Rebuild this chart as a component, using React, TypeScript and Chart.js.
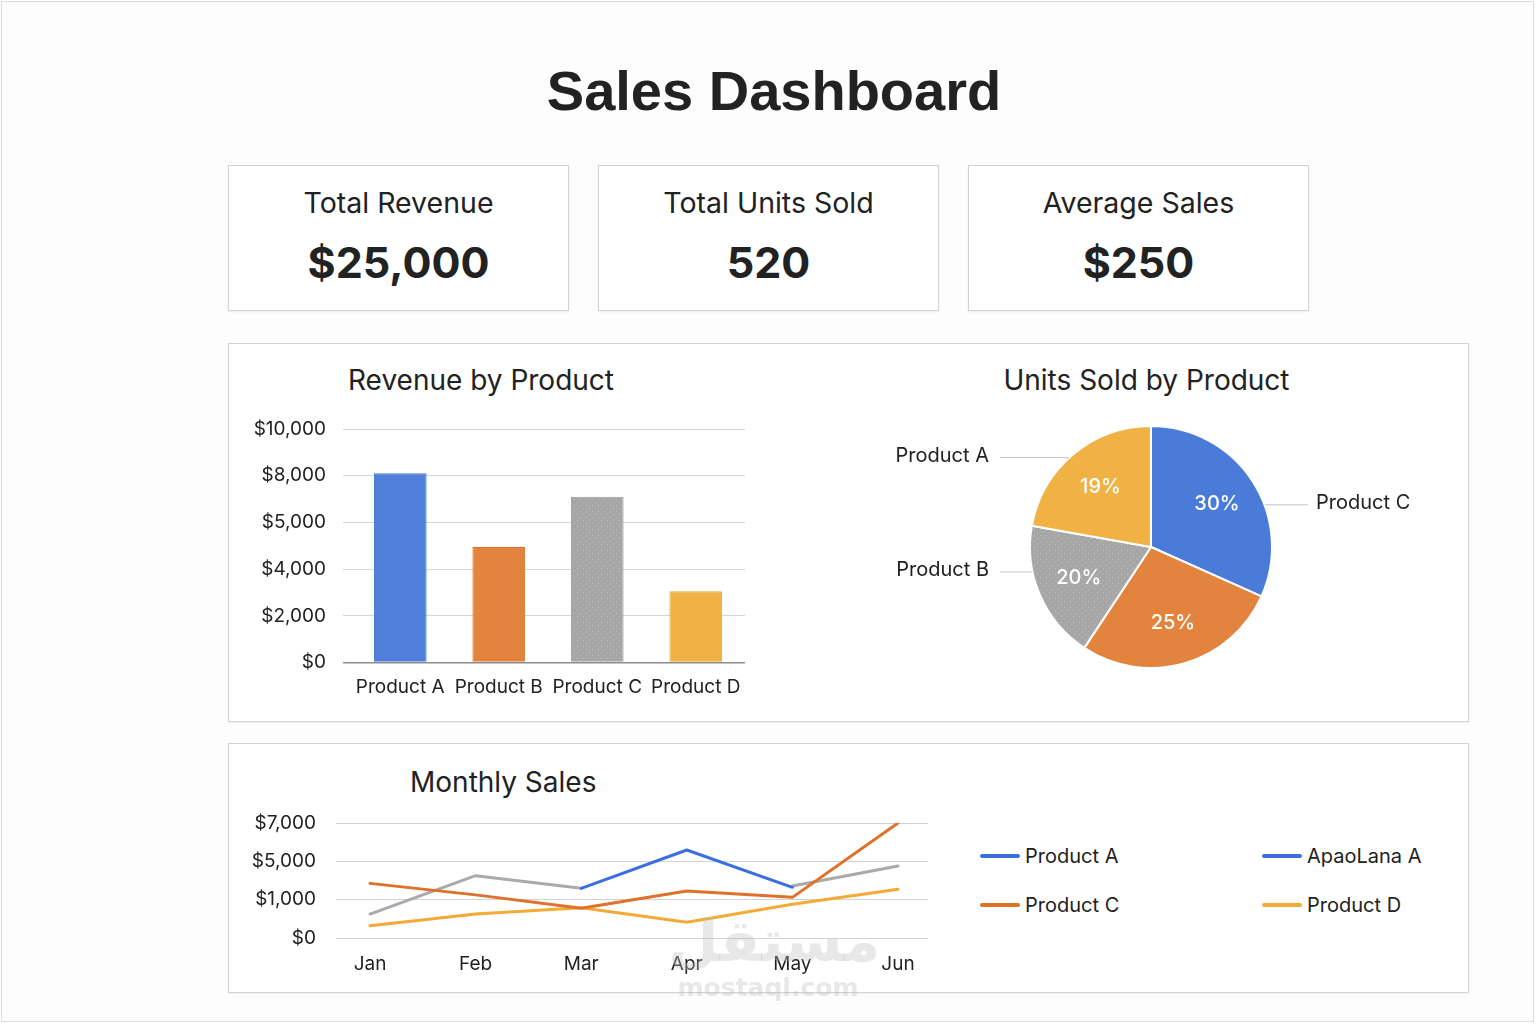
import React, { useEffect, useRef } from "react";
import { Chart, registerables } from "chart.js";

Chart.register(...registerables);

const FONT = "Inter, 'Noto Sans', Roboto, sans-serif";
const TEXT = "#222222";

// ---- KPI cards ----
const kpiTitles = ["Total Revenue", "Total Units Sold", "Average Sales"];
const kpiValues = ["$25,000", "520", "$250"];

// ---- Revenue by Product (bar) ----
const products = ["Product A", "Product B", "Product C", "Product D"];
const revenue = [8100, 4950, 7100, 3050];
const revenueTickLabels = ["$0", "$2,000", "$4,000", "$5,000", "$8,000", "$10,000"];
const revenueColors = ["#4f7fd9", "#e2843e", "#a6a6a6", "#f1b245"];
const revenueBorders = ["#3f6fd0", "#d9762e", "#9c9c9c", "#eaa835"];

// ---- Units Sold by Product (pie) ----
const unitsSlices = ["Product C", "Product D", "Product B", "Product A"];
const unitsShare = [31.7, 27.6, 18.5, 22.2];
const unitsPctLabels = ["30%", "25%", "20%", "19%"];
const unitsOutsideLabels = ["Product C", "", "Product B", "Product A"];
const unitsLabelAnchor = [0.61, 0.5, 0.67, 0.47];
const unitsColors = ["#4a7bd9", "#e2843e", "#a6a6a6", "#f0b244"];

// ---- Monthly Sales (line) ----
const months = ["Jan", "Feb", "Mar", "Apr", "May", "Jun"];
const monthlyTickLabels = ["$0", "$1,000", "$5,000", "$7,000"];
const salesA: (number | null)[] = [null, null, 2590, 4590, 2645, null];
const salesC: (number | null)[] = [2850, 2250, 1550, 2450, 2120, 6000];
const salesD: (number | null)[] = [640, 1250, 1580, 820, 1760, 2540];
const salesB: (number | null)[] = [1250, 3250, 2590, null, 2710, 3760];
const lineColors = { A: "#3b6fe0", C: "#e0712a", D: "#f4aa36", B: "#aaaaaa" };
const legendLabels = ["Product A", "ApaoLana A", "Product C", "Product D"];
const legendColors = ["#3b6fe0", "#3b6fe0", "#e0712a", "#f4aa36"];

function dottedPattern(base: string) {
  const c = document.createElement("canvas");
  c.width = 6;
  c.height = 6;
  const g = c.getContext("2d")!;
  g.fillStyle = base;
  g.fillRect(0, 0, 6, 6);
  g.fillStyle = "rgba(255,255,255,0.28)";
  g.fillRect(1, 1, 1, 1);
  g.fillRect(4, 4, 1, 1);
  return g.createPattern(c, "repeat") || base;
}

function BarChart() {
  const ref = useRef<HTMLCanvasElement>(null);
  useEffect(() => {
    const colors = revenueColors.map((c, i) => (i === 2 ? dottedPattern(c) : c));
    const chart = new Chart(ref.current!, {
      type: "bar",
      data: {
        labels: products,
        datasets: [
          {
            data: revenue,
            backgroundColor: colors as any,
            borderColor: revenueBorders,
            borderWidth: 1,
            borderSkipped: "bottom",
            barPercentage: 0.535,
            categoryPercentage: 1,
          },
        ],
      },
      options: {
        animation: false,
        responsive: false,
        devicePixelRatio: 1,
        layout: { padding: { top: 24, right: 15, bottom: 0, left: 0 } },
        plugins: { legend: { display: false }, tooltip: { enabled: false } },
        scales: {
          x: {
            grid: { display: false, drawTicks: false },
            border: { display: false },
            ticks: { color: TEXT, font: { family: FONT, size: 19 }, padding: 13 },
            afterFit: (s: any) => {
              s.height = 42.5;
            },
          },
          y: {
            min: 0,
            max: 10000,
            grid: {
              color: (ctx: any) => (ctx.tick && ctx.tick.value === 0 ? "#8c8c8c" : "#d6d6d6"),
              lineWidth: (ctx: any) => (ctx.tick && ctx.tick.value === 0 ? 1.5 : 1),
              tickLength: 8,
            },
            border: { display: false },
            ticks: {
              stepSize: 2000,
              padding: 17,
              color: TEXT,
              font: { family: FONT, size: 19 },
              callback: (v: any) => revenueTickLabels[Math.round(Number(v) / 2000)],
            },
            afterFit: (s: any) => {
              s.width = 111;
              s.paddingTop = 0;
              s.paddingBottom = 0;
            },
          },
        },
      },
    });
    return () => chart.destroy();
  }, []);
  return (
    <canvas
      ref={ref}
      width={520}
      height={300}
      style={{ position: "absolute", left: 240, top: 405, width: 520, height: 300 }}
    />
  );
}

const pieLabelPlugin = {
  id: "pieLabels",
  afterDatasetsDraw(chart: any) {
    const ctx = chart.ctx;
    const meta = chart.getDatasetMeta(0);
    ctx.save();
    meta.data.forEach((arc: any, i: number) => {
      const { x, y, startAngle, endAngle, outerRadius } = arc.getProps(
        ["x", "y", "startAngle", "endAngle", "outerRadius"],
        true
      );
      const mid = (startAngle + endAngle) / 2;
      const r = outerRadius * 0.65;
      ctx.fillStyle = "#ffffff";
      ctx.font = `500 20px ${FONT}`;
      ctx.textAlign = "center";
      ctx.textBaseline = "middle";
      ctx.fillText(unitsPctLabels[i], x + Math.cos(mid) * r, y + Math.sin(mid) * r);

      const name = unitsOutsideLabels[i];
      if (!name) return;
      const a = startAngle + (endAngle - startAngle) * unitsLabelAnchor[i];
      const px = x + Math.cos(a) * outerRadius;
      const py = y + Math.sin(a) * outerRadius;
      const left = Math.cos(a) < 0;
      const lineEnd = left ? x - outerRadius - 30 : x + outerRadius + 36;
      ctx.strokeStyle = "#c4c4c4";
      ctx.lineWidth = 1;
      ctx.beginPath();
      ctx.moveTo(px, py);
      ctx.lineTo(lineEnd, py);
      ctx.stroke();
      ctx.fillStyle = TEXT;
      ctx.font = `400 20px ${FONT}`;
      ctx.textAlign = left ? "right" : "left";
      ctx.fillText(name, left ? lineEnd - 11 : lineEnd + 8, py - 2);
    });
    ctx.restore();
  },
};

function PieChart() {
  const ref = useRef<HTMLCanvasElement>(null);
  useEffect(() => {
    const colors = unitsColors.map((c, i) => (i === 2 ? dottedPattern(c) : c));
    const chart = new Chart(ref.current!, {
      type: "pie",
      data: {
        labels: unitsSlices,
        datasets: [
          {
            data: unitsShare,
            backgroundColor: colors as any,
            borderColor: "#ffffff",
            borderWidth: 2,
          },
        ],
      },
      options: {
        animation: false,
        responsive: false,
        devicePixelRatio: 1,
        layout: { padding: { left: 149, right: 167, top: 20, bottom: 26 } },
        plugins: { legend: { display: false }, tooltip: { enabled: false } },
      },
      plugins: [pieLabelPlugin],
    });
    return () => chart.destroy();
  }, []);
  return (
    <canvas
      ref={ref}
      width={560}
      height={290}
      style={{ position: "absolute", left: 880, top: 405, width: 560, height: 290 }}
    />
  );
}

function toPoints(arr: (number | null)[]) {
  return arr.map((v, i) => ({ x: i, y: v }));
}

function LineChart() {
  const ref = useRef<HTMLCanvasElement>(null);
  useEffect(() => {
    const ds = (data: (number | null)[], color: string) => ({
      data: toPoints(data) as any,
      borderColor: color,
      backgroundColor: color,
      borderWidth: 3,
      pointRadius: 0,
      tension: 0,
      spanGaps: false,
      borderCapStyle: "round" as const,
      borderJoinStyle: "round" as const,
    });
    const chart = new Chart(ref.current!, {
      type: "line",
      data: {
        datasets: [
          ds(salesA, lineColors.A),
          ds(salesC, lineColors.C),
          ds(salesD, lineColors.D),
          ds(salesB, lineColors.B),
        ],
      },
      options: {
        animation: false,
        responsive: false,
        devicePixelRatio: 1,
        layout: { padding: { top: 18, right: 12, bottom: 0, left: 0 } },
        plugins: { legend: { display: false }, tooltip: { enabled: false } },
        scales: {
          x: {
            type: "linear",
            min: -0.322,
            max: 5.284,
            grid: { display: false, drawTicks: false },
            border: { display: false },
            ticks: {
              stepSize: 1,
              includeBounds: false,
              autoSkip: false,
              maxRotation: 0,
              padding: 15,
              color: TEXT,
              font: { family: FONT, size: 19 },
              callback: (v: any) => {
                const n = Number(v);
                return Number.isInteger(n) ? months[n] : "";
              },
            },
            afterFit: (s: any) => {
              s.height = 47;
            },
          },
          y: {
            min: 0,
            max: 6000,
            grid: { color: "#d2d2d2", drawTicks: false },
            border: { display: false },
            ticks: {
              stepSize: 2000,
              padding: 20,
              color: TEXT,
              font: { family: FONT, size: 19 },
              callback: (v: any) => monthlyTickLabels[Math.round(Number(v) / 2000)],
            },
            afterFit: (s: any) => {
              s.width = 96;
              s.paddingTop = 0;
              s.paddingBottom = 0;
            },
          },
        },
      },
    });
    return () => chart.destroy();
  }, []);
  return (
    <canvas
      ref={ref}
      width={700}
      height={180}
      style={{ position: "absolute", left: 240, top: 805, width: 700, height: 180 }}
    />
  );
}

const boxStyle = (left: number, top: number, width: number, height: number): React.CSSProperties => ({
  position: "absolute",
  left,
  top,
  width,
  height,
  boxSizing: "border-box",
  border: "1px solid #d2d2d2",
  background: "#ffffff",
  boxShadow: "0 1px 2px rgba(0,0,0,0.06)",
});

const textStyle = (
  left: number,
  top: number,
  size: number,
  weight: number,
  extra: React.CSSProperties = {}
): React.CSSProperties => ({
  position: "absolute",
  left,
  top,
  fontSize: size,
  lineHeight: `${size}px`,
  fontWeight: weight,
  fontFamily: FONT,
  color: TEXT,
  whiteSpace: "nowrap",
  ...extra,
});

export default function App() {
  const cardLefts = [228, 598, 968];
  return (
    <div
      style={{
        position: "absolute",
        left: 0,
        top: 0,
        width: 1536,
        height: 1024,
        background: "#ffffff",
        overflow: "hidden",
      }}
    >
      <div
        style={{
          position: "absolute",
          left: 1,
          top: 1,
          width: 1533,
          height: 1021,
          boxSizing: "border-box",
          border: "1px solid #dcdcdc",
          background: "#fdfdfd",
        }}
      />
      <div
        style={{
          position: "absolute",
          left: 0,
          top: 63,
          width: 1548,
          textAlign: "center",
          fontFamily: "'Liberation Sans', Arial, sans-serif",
          fontWeight: 700,
          fontSize: 56,
          lineHeight: "56px",
          color: TEXT,
        }}
      >
        Sales Dashboard
      </div>

      {cardLefts.map((l, i) => (
        <div key={i} style={boxStyle(l, 165, 341, 146)}>
          <div style={textStyle(0, 23, 28.5, 400, { width: 339, textAlign: "center" })}>{kpiTitles[i]}</div>
          <div style={textStyle(0, 75, 43, 700, { width: 339, textAlign: "center" })}>{kpiValues[i]}</div>
        </div>
      ))}

      <div style={boxStyle(228, 343, 1241, 379)} />
      <div style={textStyle(348, 366, 28, 400)}>Revenue by Product</div>
      <div style={textStyle(1000, 366, 28, 400, { width: 293, textAlign: "center" })}>Units Sold by Product</div>
      <BarChart />
      <PieChart />

      <div style={boxStyle(228, 743, 1241, 250)} />
      <div style={textStyle(410, 768, 28, 400)}>Monthly Sales</div>
      <LineChart />

      {legendLabels.map((lab, i) => {
        const col = i % 2;
        const row = Math.floor(i / 2);
        const lx = col === 0 ? 980 : 1262;
        const cy = row === 0 ? 856 : 905;
        return (
          <React.Fragment key={lab + i}>
            <div
              style={{
                position: "absolute",
                left: lx,
                top: cy - 2,
                width: 40,
                height: 4,
                borderRadius: 2,
                background: legendColors[i],
              }}
            />
            <div style={textStyle(lx + 45, cy - 10, 20, 400)}>{lab}</div>
          </React.Fragment>
        );
      })}

      <div
        style={{
          position: "absolute",
          left: 668,
          top: 906,
          width: 192,
          textAlign: "center",
          fontFamily: "'DejaVu Sans', sans-serif",
          fontWeight: 700,
          fontSize: 58,
          lineHeight: "70px",
          color: "rgba(190,190,190,0.35)",
          pointerEvents: "none",
        }}
      >
        مستقل
      </div>
      <div
        style={{
          position: "absolute",
          left: 672,
          top: 974,
          width: 192,
          textAlign: "center",
          fontFamily: "'DejaVu Sans', sans-serif",
          fontWeight: 700,
          fontSize: 25,
          lineHeight: "28px",
          color: "rgba(190,190,190,0.35)",
          pointerEvents: "none",
        }}
      >
        mostaql.com
      </div>
    </div>
  );
}
